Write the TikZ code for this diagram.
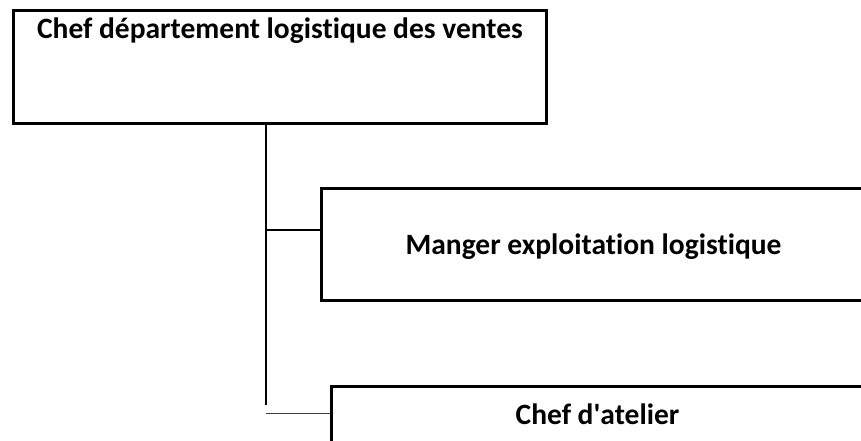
\documentclass[tikz,border=0pt]{standalone}
\usepackage{fontspec}
\setmainfont{Carlito}[Ligatures=NoCommon]
\usepackage{tikz}
\usetikzlibrary{positioning}
\tikzset{every node/.append style={font=\fontsize{29.5}{34}\selectfont\bfseries}}
\tikzset{
    box/.style={draw, line width=3pt, rectangle, inner xsep=0pt, inner ysep=0pt, anchor=north west},
    trunk/.style={line width=2pt},
    branch/.style={line width=1.5pt}
}

\begin{document}
\begin{tikzpicture}[x=1pt, y=-1pt]
    \useasboundingbox (0,0) rectangle (861,441);
    \clip (0,0) rectangle (861,441);
    % boxes
    \node[box, minimum width=533pt, text height=28pt, text depth=85pt] (chef) at (12,9) {Chef département logistique des ventes};
    \node[box, minimum width=544pt, text height=66pt, text depth=46pt] (manager) at (320,187) {Manger exploitation logistique};
    \node[box, minimum width=532pt, text height=38pt, text depth=22pt] (atelier) at (330,385) {Chef d\textquotesingle atelier};
    % tree lines
    \coordinate (top) at (266,122);
    \coordinate (bottom) at (266,405);
    \coordinate (b1) at (266,230);
    \coordinate (b2) at (266,413);
    \draw[trunk] (top) -- (bottom);
    \draw[branch] (b1) -- (b1 -| manager.west);
    \draw[line width=1pt, black!75] (b2) -- (b2 -| atelier.west);
\end{tikzpicture}
\end{document}
